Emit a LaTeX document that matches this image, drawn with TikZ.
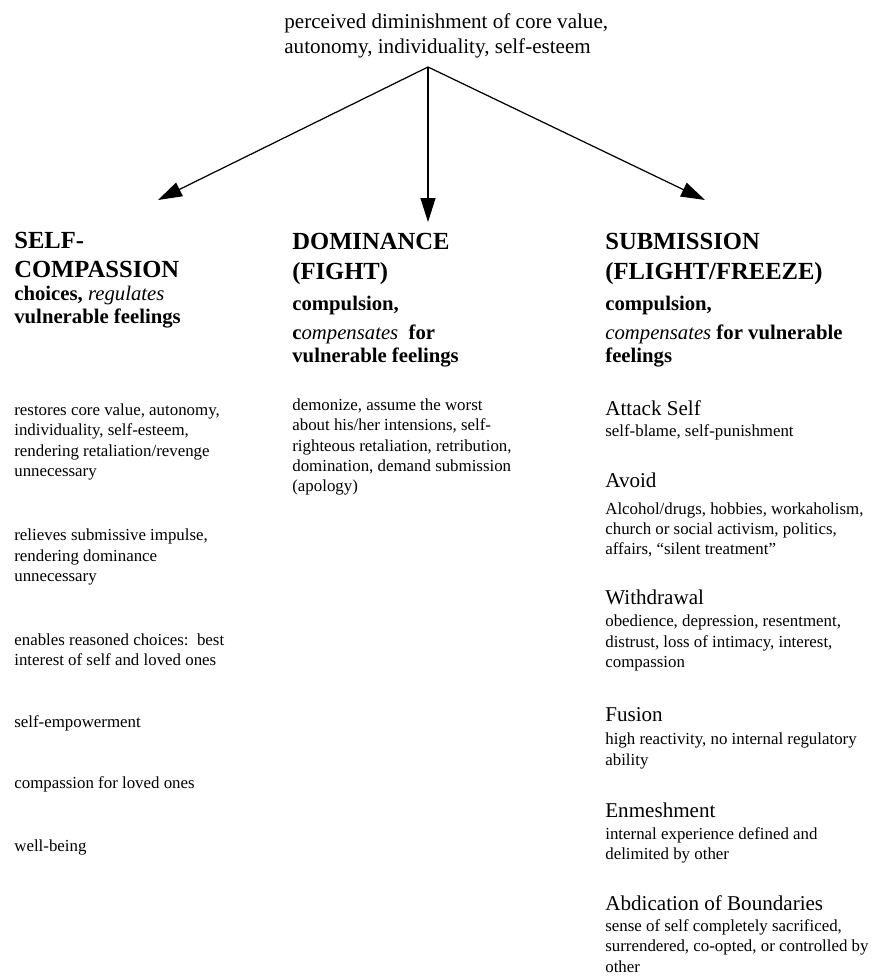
\documentclass[tikz,border=0pt]{standalone}
\usepackage{fontspec}
\setmainfont{Liberation Serif}
\usepackage{tikz}
\usetikzlibrary{arrows.meta}
\usetikzlibrary{positioning}
\tikzstyle{toptext}=[anchor=west,align=left,inner sep=0pt,font=\fontsize{12}{14.5}\selectfont]
\tikzstyle{heading}=[anchor=west,align=left,inner sep=0pt,font=\fontsize{14}{16.5}\selectfont\bfseries]
\tikzstyle{subhead}=[anchor=west,align=left,inner sep=0pt,font=\fontsize{11.8}{13.3}\selectfont\bfseries]
\tikzstyle{itemhead}=[anchor=west,inner sep=0pt,font=\fontsize{12}{14}\selectfont]
\tikzstyle{itemtext}=[anchor=west,align=left,inner sep=0pt,font=\fontsize{9.6}{11.5}\selectfont]
\tikzstyle{branch}=[-{Triangle[length=0.48cm,width=0.3cm]},line width=0.7pt]
\newcommand{\soft}[1]{{\mdseries\itshape #1}}

\begin{document}
\begin{tikzpicture}[x=0.02cm,y=-0.02cm]
\useasboundingbox (0,0) rectangle (873,976);
    \node [toptext] (cause) at (284,36) {perceived diminishment of core value,\\autonomy, individuality, self-esteem};
    \coordinate (apex) at (428,67);
    \coordinate (tipL) at (158,200);
    \coordinate (tipM) at (428,222);
    \coordinate (tipR) at (705,200);
    \draw [branch] (apex) -- (tipL);
    \draw [branch] (apex) -- (tipM);
    \draw [branch] (apex) -- (tipR);

% self-compassion
\node [heading] (comp) at (14,255) {SELF-\\COMPASSION};
\node [subhead] (compsub) at (14,307) {choices, \soft{regulates}\\vulnerable feelings};
\node [itemtext] (comp1) at (14,442) {restores core value, autonomy,\\individuality, self-esteem,\\rendering retaliation/revenge\\unnecessary};
\node [itemtext] (comp2) at (14,557) {relieves submissive impulse,\\rendering dominance\\unnecessary};
\node [itemtext] (comp3) at (14,650) {enables reasoned choices:\ \ best\\interest of self and loved ones};
\node [itemtext] (comp4) at (14,723) {self-empowerment};
\node [itemtext] (comp5) at (14,784) {compassion for loved ones};
\node [itemtext] (comp6) at (14,847) {well-being};

% dominance
\node [heading] (dom) at (292,241) {DOMINANCE};
\node [heading] (fight) at (292,274) {(FIGHT)};
\node [subhead] (domsub1) at (292,306) {compulsion,};
\node [subhead] (domsub2) at (292,346) {c\soft{ompensates}\ \ for\\vulnerable feelings};
\node [itemtext] (dom1) at (292,447) {demonize, assume the worst\\about his/her intensions, self-\\righteous retaliation, retribution,\\domination, demand submission\\(apology)};

% submission
\node [heading] (sub) at (605,241) {SUBMISSION};
\node [heading] (flight) at (605,274) {(FLIGHT/FREEZE)};
\node [subhead] (subsub1) at (605,306) {compulsion,};
\node [subhead] (subsub2) at (605,346) {\soft{compensates} for vulnerable\\feelings};
\node [itemhead] (attack) at (605,408) {Attack Self};
\node [itemtext] (attack1) at (605,432) {self-blame, self-punishment};
\node [itemhead] (avoid) at (605,480) {Avoid};
\node [itemtext] (avoid1) at (605,530) {Alcohol/drugs, hobbies, workaholism,\\church or social activism, politics,\\affairs, ``silent treatment''};
\node [itemhead] (withdraw) at (605,597) {Withdrawal};
\node [itemtext] (withdraw1) at (605,643) {obedience, depression, resentment,\\distrust, loss of intimacy, interest,\\compassion};
\node [itemhead] (fusion) at (605,715) {Fusion};
\node [itemtext] (fusion1) at (605,751) {high reactivity, no internal regulatory\\ability};
\node [itemhead] (enmesh) at (605,810) {Enmeshment};
\node [itemtext] (enmesh1) at (605,845) {internal experience defined and\\delimited by other};
\node [itemhead] (abdic) at (605,903) {Abdication of Boundaries};
\node [itemtext] (abdic1) at (605,946) {sense of self completely sacrificed,\\surrendered, co-opted, or controlled by\\other};
\end{tikzpicture}
\end{document}
